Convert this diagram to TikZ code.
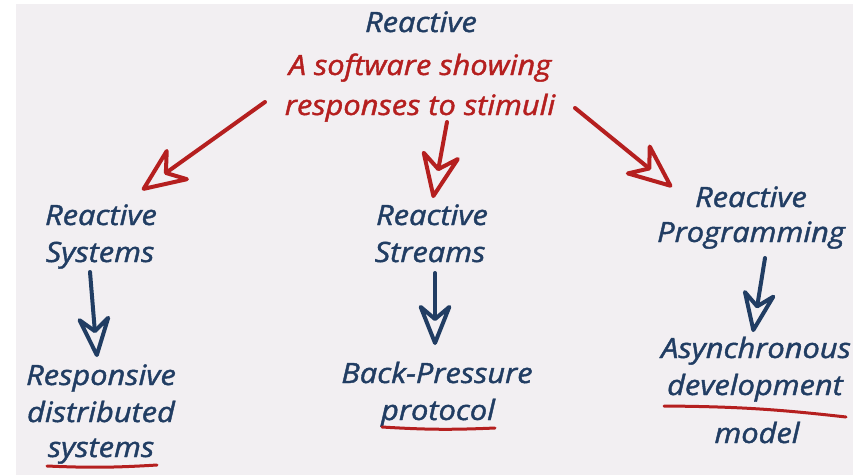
\documentclass[tikz,border=0pt]{standalone}
\usepackage{fontspec}
\newfontfamily\hand{Open Sans Italic}[FakeStretch=1.1,FakeBold=1.5]
\usetikzlibrary{arrows.meta}
\definecolor{navy}{HTML}{213D63}
\definecolor{redc}{HTML}{B51F1F}
\definecolor{bgc}{HTML}{F2EFF2}
\begin{document}
\begin{tikzpicture}[x=1pt,y=-1pt,
  txt/.style={anchor=base, inner sep=0pt, font=\hand\fontsize{28}{32}\selectfont},
  bl/.style={txt, text=navy},
  rd/.style={txt, text=redc},
  redarr/.style={draw=redc, line width=4pt, line cap=round, line join=round,
    -{Stealth[open,round,length=52pt,width=44pt,inset=17pt]}},
  bluearr/.style={draw=navy, line width=4pt, line cap=round, line join=round,
    -{Stealth[open,round,length=48pt,width=38pt,inset=16pt]}},
  uline/.style={draw=redc, line width=3pt, line cap=round}]
\fill[white] (0,0) rectangle (856,475);
\fill[bgc] (16,4) rectangle (853,475);
\useasboundingbox (0,0) rectangle (856,475);

\node[bl] (top) at (421,32) {Reactive};
\node[rd] (def1) at (420,75) {A software showing};
\node[rd] (def2) at (420,115) {responses to stimuli};
\node[bl] (sys1) at (101,225) {Reactive};
\node[bl] (sys2) at (100,262) {Systems};
\node[bl] (str1) at (432,225) {Reactive};
\node[bl] (str2) at (430,262) {Streams};
\node[bl] (prg1) at (751,207) {Reactive};
\node[bl] (prg2) at (751,242) {Programming};
\node[bl] (rsp1) at (101,385) {Responsive};
\node[bl] (rsp2) at (101,422) {distributed};
\node[bl] (rsp3) at (101,457) {systems};
\node[bl] (bp1) at (437,383) {Back-Pressure};
\node[bl] (bp2) at (438,420) {protocol};
\node[bl] (as1) at (756,358) {Asynchronous};
\node[bl] (as2) at (755,395) {development};
\node[bl] (as3) at (757,443) {model};

\draw[redarr] ([shift={(-155,-13)}]def2.base) -- ([shift={(41,-35)}]sys1.base);
\draw[redarr] ([shift={(27,7)}]def2.base) -- ([shift={(1,-27)}]str1.base);
\draw[redarr] ([shift={(155,-7)}]def2.base) -- ([shift={(-79,-20)}]prg1.base);

\draw[bluearr] ([shift={(-10,10)}]sys2.base) -- ([shift={(-4,-28)}]rsp1.base);
\draw[bluearr] ([shift={(5,11)}]str2.base) -- ([shift={(-2,-38)}]bp1.base);
\draw[bluearr] ([shift={(14,16)}]prg2.base) -- ([shift={(-3,-26)}]as1.base);

\draw[uline] ([shift={(-54,9)}]rsp3.base) to[bend right=3] ([shift={(56,8)}]rsp3.base);
\draw[uline] ([shift={(-56,7)}]bp2.base) to[bend right=3] ([shift={(57,8)}]bp2.base);
\draw[uline] ([shift={(-91,11)}]as2.base) to[bend left=3] ([shift={(91,22)}]as2.base);
\end{tikzpicture}
\end{document}
